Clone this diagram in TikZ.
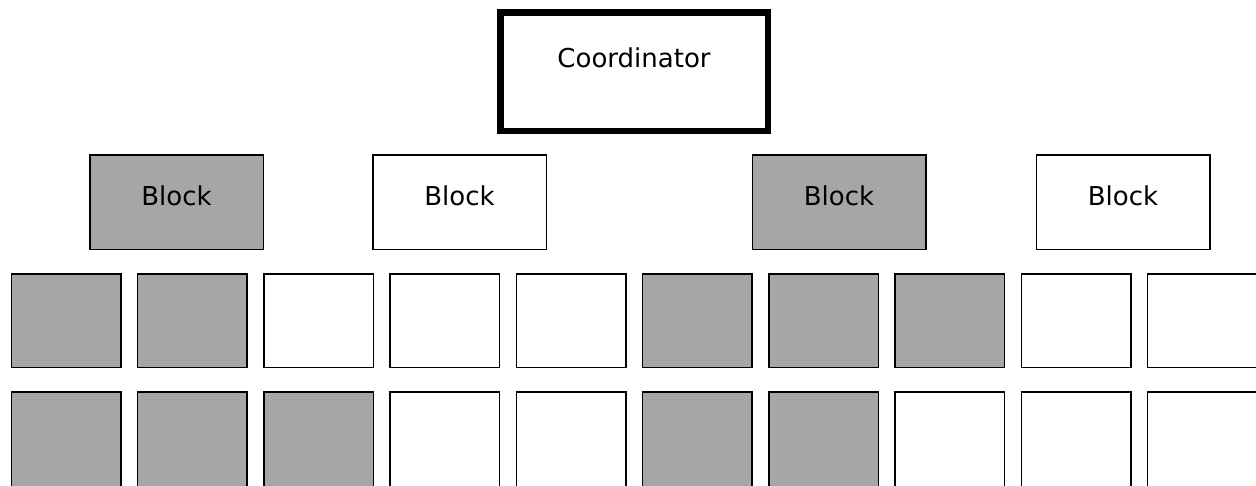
\documentclass[tikz,border=0pt]{standalone}
\usepackage{fontspec}
\setmainfont{DejaVu Sans}
\definecolor{cellgray}{HTML}{A6A6A6}
\begin{document}
\begin{tikzpicture}[x=1pt,y=-1pt,
  coord/.style={draw=black,line width=6.5pt,fill=white,minimum width=267.5pt,minimum height=118.5pt,inner sep=0pt,
    font=\fontsize{26}{30}\selectfont,text height=19pt,text depth=28pt},
  blockbox/.style={draw=black,line width=1.5pt,minimum width=173.5pt,minimum height=94.5pt,inner sep=0pt,
    font=\fontsize{26}{30}\selectfont,text height=20pt,text depth=14pt},
  cell/.style={draw=black,line width=1.5pt,minimum width=109.5pt,minimum height=93.5pt,inner sep=0pt},
  cellb/.style={draw=black,line width=1.5pt,minimum width=109.5pt,minimum height=95.5pt,inner sep=0pt},
  g/.style={fill=cellgray},
  w/.style={fill=white}]
\useasboundingbox (0,0) rectangle (1256,485);
\clip (0,0) rectangle (1256,485);
\node[coord] (coordinator) at (634,71.5) {Coordinator};
\node[blockbox,g] (b1) at (176.5,202) {Block};
\node[blockbox,w] (b2) at (459.5,202) {Block};
\node[blockbox,g] (b3) at (839,202) {Block};
\node[blockbox,w] (b4) at (1123,202) {Block};
\foreach \s [count=\i from 0] in {g,g,w,w,w,g,g,g,w,w}
  \node[cell,\s] (r1c\i) at (66.2+126.25*\i,320.5) {};
\foreach \s [count=\i from 0] in {g,g,g,w,w,g,g,w,w,w}
  \node[cellb,\s] (r2c\i) at (66.2+126.25*\i,439.5) {};
\end{tikzpicture}
\end{document}
